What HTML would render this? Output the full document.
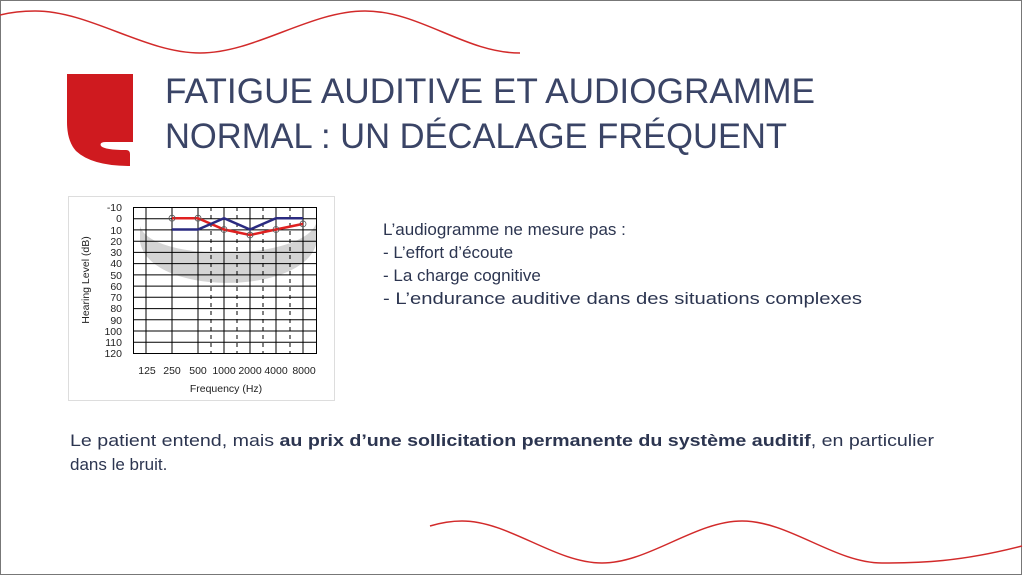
<!DOCTYPE html>
<html><head><meta charset="utf-8"><style>
html,body{margin:0;padding:0;background:#fff;}
svg{display:block;font-family:"Liberation Sans",sans-serif;}
</style></head><body>
<svg width="1024" height="576" viewBox="0 0 1024 576" xmlns="http://www.w3.org/2000/svg">
<rect x="0.5" y="0.5" width="1021" height="574" fill="#fff" stroke="#777" stroke-width="1"/>
<path d="M0 15 C12 12 24 11 35 11 C90 11 145 53 200 53 C255 53 310 11 365 11 C420 11 465 53 520 53" fill="none" stroke="#d22a2a" stroke-width="1.5"/>
<path d="M430 526 C440 523 450 521 462 521 C509 521 555 563 602 563 C649 563 695 521 742 521 C789 521 835 563 882 563 C920 563 960 562 1022 546" fill="none" stroke="#d22a2a" stroke-width="1.5"/>
<path d="M67 74 H133 V142 H106 Q99 142 101 146 Q105 150 126 150 Q130 150 130 154 V166 Q92 166 76 151 Q67 141 67 122 Z" fill="#cf1a1f"/>
<g fill="#3a4466" font-size="35">
<text x="165" y="103" textLength="650" lengthAdjust="spacingAndGlyphs">FATIGUE AUDITIVE ET AUDIOGRAMME</text>
<text x="165" y="148" textLength="622" lengthAdjust="spacingAndGlyphs">NORMAL : UN DÉCALAGE FRÉQUENT</text>
</g>
<rect x="68.5" y="196.5" width="266" height="204" fill="#fff" stroke="#ddd"/>
<path d="M140 226 C150 262 300 262 316 224 L316 245 C300 296 150 296 140 242 Z" fill="#d4d4d4"/>
<g stroke="#000" stroke-width="1" fill="none">
<rect x="133.5" y="207.5" width="183" height="146"/>
<path d="M146 207V353M172 207V353M198 207V353M224 207V353M250 207V353M276 207V353M303 207V353"/>
<path d="M211 207V353M237 207V353M263 207V353M290 207V353" stroke-dasharray="4,4"/>
<path d="M133 218.7H316M133 229.9H316M133 241.2H316M133 252.4H316M133 263.6H316M133 274.9H316M133 286.1H316M133 297.3H316M133 308.6H316M133 319.8H316M133 331H316M133 342.3H316"/>
</g>
<polyline points="172,218.2 198,218.2 224,229.5 250,235 276,229.5 303,223.9" fill="none" stroke="#e02020" stroke-width="2.5"/>
<polyline points="172,229.5 198,229.5 224,218.2 250,229.5 276,218.2 303,218.2" fill="none" stroke="#2a2a80" stroke-width="2.5"/>
<g fill="none" stroke="#555" stroke-width="0.8">
<circle cx="172" cy="218.2" r="3"/><circle cx="198" cy="218.2" r="3"/><circle cx="224" cy="229.5" r="3"/><circle cx="250" cy="235" r="3"/><circle cx="276" cy="229.5" r="3"/><circle cx="303" cy="223.9" r="3"/>
</g>
<g font-size="10.5" fill="#222" text-anchor="end">
<text x="122" y="211">-10</text><text x="122" y="222">0</text><text x="122" y="234">10</text><text x="122" y="245">20</text><text x="122" y="256">30</text><text x="122" y="267">40</text><text x="122" y="279">50</text><text x="122" y="290">60</text><text x="122" y="301">70</text><text x="122" y="312">80</text><text x="122" y="324">90</text><text x="122" y="335">100</text><text x="122" y="346">110</text><text x="122" y="357">120</text>
</g>
<g font-size="10.5" fill="#222" text-anchor="middle">
<text x="147" y="374">125</text><text x="172" y="374">250</text><text x="198" y="374">500</text><text x="224" y="374">1000</text><text x="250" y="374">2000</text><text x="276" y="374">4000</text><text x="304" y="374">8000</text>
<text x="226" y="392">Frequency (Hz)</text>
<text transform="translate(89,280) rotate(-90)">Hearing Level (dB)</text>
</g>
<g font-size="17" fill="#2c3550">
<text x="383" y="235">L’audiogramme ne mesure pas :</text>
<text x="383" y="258">- L’effort d’écoute</text>
<text x="383" y="281">- La charge cognitive</text>
<text x="383" y="304" textLength="479" lengthAdjust="spacingAndGlyphs">- L’endurance auditive dans des situations complexes</text>
</g>
<g font-size="17" fill="#2c3550">
<text x="70" y="446" textLength="864" lengthAdjust="spacingAndGlyphs">Le patient entend, mais <tspan font-weight="bold">au prix d’une sollicitation permanente du système auditif</tspan>, en particulier</text>
<text x="70" y="470">dans le bruit.</text>
</g>
</svg>
</body></html>
